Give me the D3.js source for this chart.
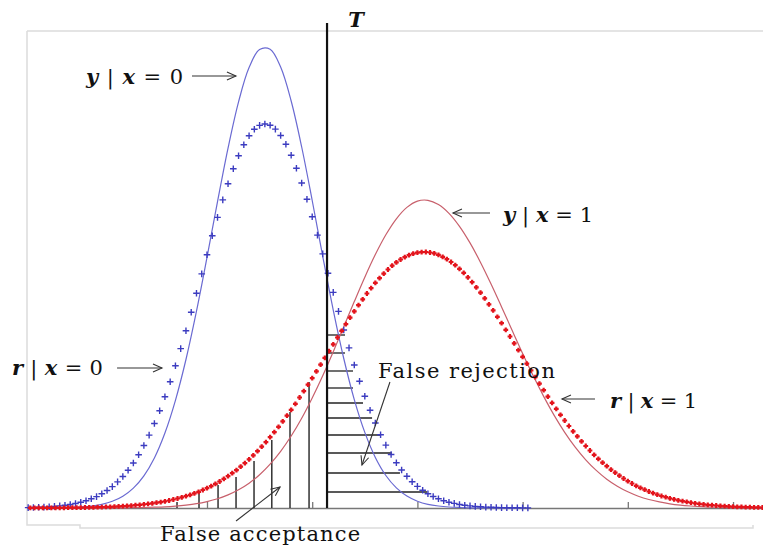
<!DOCTYPE html>
<html><head><meta charset="utf-8">
<script src="https://cdn.jsdelivr.net/npm/d3@7"></script>
<style>body{margin:0;background:#fff}svg{display:block}</style>
</head><body>
<script>
// ---------- DATA ----------
const xTicks = [1, 2, 3, 4, 5, 6];
const threshold = 2.141, thresholdTop = 485;

// solid curves, sampled every 0.1 starting at -0.7
const solidStart = -0.7, solidStep = 0.1;
const yGivenX0 = [0,0,0.1,0.2,0.5,1.0,1.9,3.7,6.7,11.8,19.9,32.2,50.1,75.0,107.7,148.5,196.8,250.6,306.4,359.9,406.2,440.4,458.6,458.8,440.9,407.0,361.0,307.5,251.7,197.9,149.5,108.4,75.6,50.6,32.5,20.1,11.9,6.8,3.7,2.0,1.0,0.5,0.2,0.1,0,0,0,0];
const yGivenX1 = [0,0,0,0,0,0,0,0.1,0.1,0.2,0.3,0.5,0.8,1.2,1.9,2.9,4.3,6.4,9.2,13.1,18.2,24.8,33.3,43.9,56.7,72.0,89.8,110.1,132.3,156.3,181.3,206.4,230.8,253.4,273.2,289.2,300.6,306.9,307.7,303.5,294.7,281.7,265.1,245.6,224.0,201.1,177.7,154.6,132.4,111.6,92.6,75.7,60.9,48.2,37.6,28.8,21.8,16.2,11.8,8.5,6.1,4.2,2.9,2.0,1.3,0.9,0.6,0.4,0.2,0.1];

// r | x = 0 markers, every 0.05 starting at -0.70
const r0Start = -0.70, r0Step = 0.05;
const rGivenX0 = [0.4,0.5,0.7,0.9,1.2,1.6,2.1,2.7,3.5,4.5,5.7,7.3,9.2,11.4,
14.2,17.5,21.4,26.1,31.5,37.7,45.0,53.2,62.5,72.9,84.5,97.3,111.2,126.2,142.3,159.4,177.3,195.8,214.8,234.1,
253.3,272.2,290.6,308.1,324.3,339.2,352.2,363.3,372.2,378.7,382.6,384.0,382.7,378.9,372.5,363.7,352.7,339.7,325.0,308.7,
291.3,272.9,254.1,234.8,215.6,196.6,178.0,160.1,143.0,126.8,111.7,97.8,85.0,73.3,62.9,53.5,45.3,38.0,31.7,26.3,
21.6,17.7,14.3,11.5,9.2,7.3,5.8,4.6,3.5,2.7,2.1,1.6,1.2,0.9,0.7,0.5,0.4,0.3,0.2,0.2,
0.1,0.1];

// r | x = 1 markers, every 0.04 starting at -0.68
const r1Start = -0.68, r1Step = 0.04;
const rGivenX1 = [0.1,0.1,0.1,0.1,0.1,0.1,0.2,0.2,0.2,0.3,0.3,0.4,0.4,0.5,0.6,0.7,0.8,0.9,1.1,1.2,1.4,1.6,1.9,2.1,2.4,
2.8,3.2,3.6,4.1,4.7,5.3,5.9,6.7,7.5,8.5,9.5,10.6,11.8,13.2,14.6,16.2,18.0,19.9,21.9,24.2,26.5,29.1,31.8,34.8,37.9,
41.3,44.9,48.6,52.6,56.8,61.3,65.9,70.8,75.9,81.2,86.7,92.3,98.2,104.2,110.5,116.8,123.3,129.9,136.6,143.3,150.1,156.9,163.7,170.5,177.1,
183.8,190.3,196.6,202.8,208.7,214.5,219.9,225.1,229.9,234.4,238.5,242.3,245.6,248.5,250.9,252.9,254.4,255.4,255.9,256.0,255.5,254.6,253.1,251.2,248.9,
246.0,242.8,239.1,235.1,230.6,225.8,220.7,215.3,209.6,203.7,197.6,191.2,184.8,178.2,171.5,164.7,157.9,151.1,144.3,137.6,130.9,124.3,117.8,111.4,105.2,
99.1,93.2,87.5,82.0,76.7,71.6,66.6,62.0,57.5,53.2,49.2,45.4,41.8,38.4,35.3,32.3,29.5,26.9,24.5,22.2,20.2,18.3,16.5,14.9,13.4,
12.0,10.8,9.6,8.6,7.7,6.8,6.1,5.4,4.7,4.2,3.7,3.2,2.8,2.5,2.2,1.9,1.7,1.4,1.2,1.1,0.9,0.8,0.7,0.6,0.5];

// hatching: false acceptance (vertical), false rejection (horizontal)
const faX   = [0.715, 0.924, 1.105, 1.276, 1.447, 1.616, 1.789, 1.970];
const faTop = [6, 15, 23, 31, 47, 68, 96, 126];
const frY   = [173, 155, 137, 120, 105, 90, 73, 55, 35, 16];
const frEnd = [2.312, 2.312, 2.388, 2.388, 2.483, 2.569, 2.645, 2.758, 2.834, 3.091];

// annotations (data coordinates)
const labels = [
  {v1:"y", v2:"x", val:"0", x:-0.150, h:424, len:97},
  {v1:"y", v2:"x", val:"1", x:3.814, h:286, len:90},
  {v1:"r", v2:"x", val:"0", x:-0.854, h:133, len:91},
  {v1:"r", v2:"x", val:"1", x:4.831, h:100, len:87}
];
const arrows = [
  {x1:0.857, h1:432, x2:1.275, h2:432},
  {x1:3.690, h1:295, x2:3.338, h2:295},
  {x1:0.145, h1:140, x2:0.572, h2:140},
  {x1:4.688, h1:109, x2:4.374, h2:109},
  {x1:2.739, h1:126, x2:2.473, h2:43},
  {x1:1.276, h1:-13, x2:1.694, h2:21}
];
const notes = [
  {text:"False rejection", x:2.625, h:130, len:177},
  {text:"False acceptance", x:0.554, h:-33, len:200}
];

// ---------- CHART ----------
const W = 763, H = 548;
const x = d3.scaleLinear().domain([-0.711, 6.285]).range([27, 763]);
const y = d3.scaleLinear().domain([0, 461]).range([508, 47]);

const svg = d3.select("body").append("svg").attr("width", W).attr("height", H);

// frame
svg.append("path")
  .attr("d", "M27,31H763M27,31V525H80V528H753V525")
  .attr("fill", "none").attr("stroke", "#dcdcdc").attr("stroke-width", 1.5);

const defs = svg.append("defs");
defs.append("marker").attr("id", "ah")
  .attr("viewBox", "-10 -6 12 12").attr("refX", 0).attr("refY", 0)
  .attr("markerWidth", 12).attr("markerHeight", 12)
  .attr("markerUnits", "userSpaceOnUse").attr("orient", "auto")
  .append("path").attr("d", "M-9,-4L0,0L-9,4")
  .attr("fill", "none").attr("stroke", "#333").attr("stroke-width", 1.1);

// axis
const ax = svg.append("g").attr("transform", `translate(0,${y(0)})`)
  .call(d3.axisBottom(x).tickValues(xTicks).tickSize(-6).tickSizeOuter(0).tickFormat(""));
ax.select(".domain").attr("stroke", "#777").attr("stroke-width", 1.3);
ax.selectAll(".tick line").attr("stroke", "#777").attr("stroke-width", 1.3);

// hatching
svg.append("g").selectAll("line").data(faX).join("line")
  .attr("x1", d => x(d)).attr("x2", d => x(d))
  .attr("y1", y(0)).attr("y2", (d, i) => y(faTop[i]))
  .attr("stroke", "#222").attr("stroke-width", 1.4);
svg.append("g").selectAll("line").data(frY).join("line")
  .attr("x1", x(threshold)).attr("x2", (d, i) => x(frEnd[i]))
  .attr("y1", d => y(d)).attr("y2", d => y(d))
  .attr("stroke", "#222").attr("stroke-width", 1.3);

// solid curves
const lineGen = (start, step) => d3.line()
  .x((d, i) => x(start + step * i)).y(d => y(d))
  .curve(d3.curveCatmullRom.alpha(0.5));
svg.append("path").datum(yGivenX0).attr("d", lineGen(solidStart, solidStep))
  .attr("fill", "none").attr("stroke", "#6a6ad2").attr("stroke-width", 1.2);
svg.append("path").datum(yGivenX1).attr("d", lineGen(solidStart, solidStep))
  .attr("fill", "none").attr("stroke", "#c8606c").attr("stroke-width", 1.2);

// markers
const plus = r => `M${-r},0H${r}M0,${-r}V${r}`;
svg.append("g").selectAll("path").data(rGivenX0).join("path")
  .attr("transform", (d, i) => `translate(${x(r0Start + r0Step * i)},${y(d)})`)
  .attr("d", plus(3.3)).attr("stroke", "#3c3cc0").attr("stroke-width", 1.4).attr("fill", "none");
svg.append("g").selectAll("path").data(rGivenX1).join("path")
  .attr("transform", (d, i) => `translate(${x(r1Start + r1Step * i)},${y(d)})`)
  .attr("d", plus(2.4)).attr("stroke", "#e3141c").attr("stroke-width", 2.2).attr("fill", "none");

// threshold
svg.append("line").attr("x1", x(threshold)).attr("x2", x(threshold))
  .attr("y1", y(0)).attr("y2", y(thresholdTop))
  .attr("stroke", "#111").attr("stroke-width", 2.2);
svg.append("text").attr("x", x(2.342)).attr("y", y(481)).text("T")
  .attr("font-family", "DejaVu Serif").attr("font-style", "italic").attr("font-weight", "bold")
  .attr("font-size", 21).attr("fill", "#111");

// arrows
svg.append("g").selectAll("line").data(arrows).join("line")
  .attr("x1", d => x(d.x1)).attr("y1", d => y(d.h1))
  .attr("x2", d => x(d.x2)).attr("y2", d => y(d.h2))
  .attr("stroke", "#333").attr("stroke-width", 1.1).attr("marker-end", "url(#ah)");

// math labels
labels.forEach(l => {
  const t = svg.append("text").attr("x", x(l.x)).attr("y", y(l.h))
    .attr("font-family", "DejaVu Serif").attr("font-size", 21).attr("fill", "#111")
    .attr("textLength", l.len).attr("lengthAdjust", "spacing");
  t.append("tspan").text(l.v1).attr("font-style", "italic").attr("font-weight", "bold");
  t.append("tspan").text(" | ");
  t.append("tspan").text(l.v2).attr("font-style", "italic").attr("font-weight", "bold");
  t.append("tspan").text(" = " + l.val);
});

// notes
svg.append("g").selectAll("text").data(notes).join("text")
  .attr("x", d => x(d.x)).attr("y", d => y(d.h)).text(d => d.text)
  .attr("font-family", "DejaVu Serif").attr("font-size", 21).attr("fill", "#111")
  .attr("textLength", d => d.len).attr("lengthAdjust", "spacing");
</script></body></html>
